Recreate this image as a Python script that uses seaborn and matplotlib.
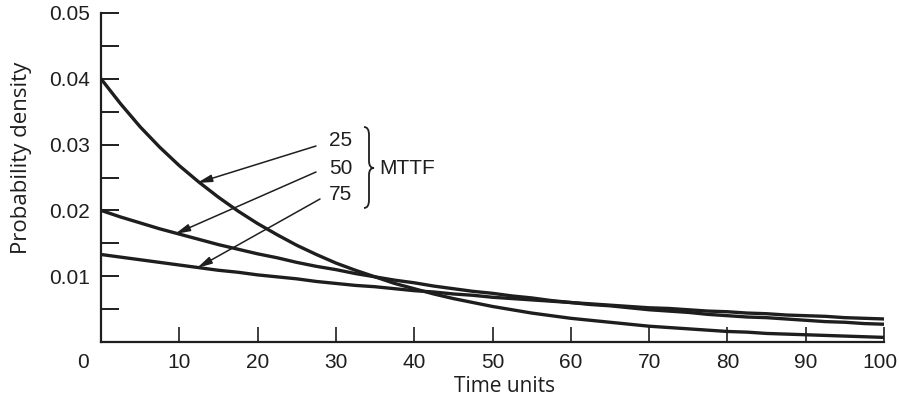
import numpy as np
import pandas as pd
import matplotlib
matplotlib.use("Agg")
import matplotlib.pyplot as plt
import matplotlib.transforms as mtransforms
import seaborn as sns
from matplotlib.path import Path
from matplotlib.patches import PathPatch

# ---- data ----
time_units = [0, 2.5, 5, 7.5, 10, 12.5, 15, 17.5, 20, 22.5, 25, 27.5, 30, 32.5, 35, 37.5, 40,
              42.5, 45, 47.5, 50, 52.5, 55, 57.5, 60, 62.5, 65, 67.5, 70, 72.5, 75, 77.5, 80,
              82.5, 85, 87.5, 90, 92.5, 95, 97.5, 100]
mttf_25 = [0.0400, 0.0362, 0.0327, 0.0296, 0.0268, 0.0243, 0.0220, 0.0199, 0.0180, 0.0163,
           0.0147, 0.0133, 0.0120, 0.0109, 0.0099, 0.0089, 0.0081, 0.0073, 0.0066, 0.0060,
           0.0054, 0.0049, 0.0044, 0.0040, 0.0036, 0.0033, 0.0030, 0.0027, 0.0024, 0.0022,
           0.0020, 0.0018, 0.0016, 0.0015, 0.0013, 0.0012, 0.0011, 0.0010, 0.0009, 0.0008, 0.0007]
mttf_50 = [0.0200, 0.0190, 0.0181, 0.0172, 0.0164, 0.0156, 0.0148, 0.0141, 0.0134, 0.0128,
           0.0121, 0.0115, 0.0110, 0.0104, 0.0099, 0.0094, 0.0090, 0.0085, 0.0081, 0.0077,
           0.0074, 0.0070, 0.0067, 0.0063, 0.0060, 0.0057, 0.0055, 0.0052, 0.0049, 0.0047,
           0.0045, 0.0042, 0.0040, 0.0038, 0.0037, 0.0035, 0.0033, 0.0031, 0.0030, 0.0028, 0.0027]
mttf_75 = [0.0133, 0.0129, 0.0125, 0.0121, 0.0117, 0.0113, 0.0109, 0.0106, 0.0102, 0.0099,
           0.0096, 0.0092, 0.0089, 0.0086, 0.0084, 0.0081, 0.0078, 0.0076, 0.0073, 0.0071,
           0.0068, 0.0066, 0.0064, 0.0062, 0.0060, 0.0058, 0.0056, 0.0054, 0.0052, 0.0051,
           0.0049, 0.0047, 0.0046, 0.0044, 0.0043, 0.0041, 0.0040, 0.0039, 0.0037, 0.0036, 0.0035]
mttf_labels = ["25", "50", "75"]
x_ticks = [0, 10, 20, 30, 40, 50, 60, 70, 80, 90, 100]
y_ticks = [0.01, 0.02, 0.03, 0.04, 0.05]

df = pd.concat([
    pd.DataFrame({"t": time_units, "f": vals, "MTTF": lab})
    for vals, lab in zip([mttf_25, mttf_50, mttf_75], mttf_labels)
])

sns.set_style("ticks")
plt.rcParams["font.family"] = ["Liberation Sans", "DejaVu Sans"]

W, H = 899, 407
fig = plt.figure(figsize=(W / 100, H / 100), dpi=100)
L, R, T, B = 101, 884, 13, 342
ax = fig.add_axes([L / W, 1 - B / H, (R - L) / W, (B - T) / H])

ink = "#1e1e1e"
sns.lineplot(data=df, x="t", y="f", hue="MTTF", palette=[ink] * 3, legend=False,
             linewidth=2.4, ax=ax)

ax.set_xlim(0, 100)
ax.set_ylim(0, 0.05)
for s in ["top", "right"]:
    ax.spines[s].set_visible(False)
for s in ["left", "bottom"]:
    ax.spines[s].set_linewidth(1.6)
    ax.spines[s].set_color(ink)

FS = 15
ax.set_xticks(x_ticks)
ax.set_xticklabels([str(v) for v in x_ticks], fontsize=FS)
ax.set_yticks(y_ticks)
ax.set_yticklabels([f"{v:.2f}" for v in y_ticks], fontsize=FS)
ax.set_yticks(np.arange(0.005, 0.05, 0.01), minor=True)
ax.tick_params(axis="y", which="both", direction="in", length=13, width=1.4, color=ink, pad=8)
ax.tick_params(axis="x", which="major", direction="in", length=11, width=1.2, color=ink, pad=8)

xlabels = ax.get_xticklabels()
shift_first = mtransforms.ScaledTranslation(-18 / 100, 0, fig.dpi_scale_trans)
shift_last = mtransforms.ScaledTranslation(-4 / 100, 0, fig.dpi_scale_trans)
xlabels[0].set_transform(xlabels[0].get_transform() + shift_first)
xlabels[-1].set_transform(xlabels[-1].get_transform() + shift_last)


def px2data(px, py):
    return ((px - L) / (R - L) * 100, (B - py) / (B - T) * 0.05)


def px2ax(px, py):
    return ((px - L) / (R - L), (B - py) / (B - T))


ax.set_xlabel("Time units", fontsize=15, color=ink, family=["Open Sans", "DejaVu Sans"])
ax.xaxis.set_label_coords(*px2ax(505, 387))
ax.xaxis.label.set_va("center")
ax.set_ylabel("Probability density", fontsize=16, color=ink, family=["Open Sans", "DejaVu Sans"])
ax.yaxis.set_label_coords(*px2ax(22, 158))
ax.yaxis.label.set_va("center")
for lab in ax.get_xticklabels() + ax.get_yticklabels():
    lab.set_color(ink)

# labels and arrows
label_pos = [(341, 141), (341, 169), (341, 194)]
arrow_start = [(316, 146), (316, 172), (320, 199)]
arrow_tip = [(197, 183), (175, 234), (197, 268)]
for lab, lp, st, tp in zip(mttf_labels, label_pos, arrow_start, arrow_tip):
    ax.text(*px2data(*lp), lab, ha="center", va="center", fontsize=FS, color=ink)
    ax.annotate("", xy=px2data(*tp), xytext=px2data(*st),
                arrowprops=dict(arrowstyle="-|>,head_length=0.9,head_width=0.22",
                                color=ink, lw=1.1, shrinkA=0, shrinkB=0))

ax.text(*px2data(379, 169), "MTTF", ha="left", va="center", fontsize=15, color=ink)

# brace
pts = [(364, 127), (369, 127), (369, 135), (369, 161), (369, 168), (374, 168),
       (369, 168), (369, 175), (369, 200), (369, 208), (364, 208)]
codes = [Path.MOVETO, Path.CURVE3, Path.CURVE3, Path.LINETO, Path.CURVE3, Path.CURVE3,
         Path.CURVE3, Path.CURVE3, Path.LINETO, Path.CURVE3, Path.CURVE3]
brace = Path([px2ax(*p) for p in pts], codes)
ax.add_patch(PathPatch(brace, transform=ax.transAxes, fill=False, lw=1.3,
                       edgecolor=ink, clip_on=False))

fig.savefig("out.png", dpi=100)
